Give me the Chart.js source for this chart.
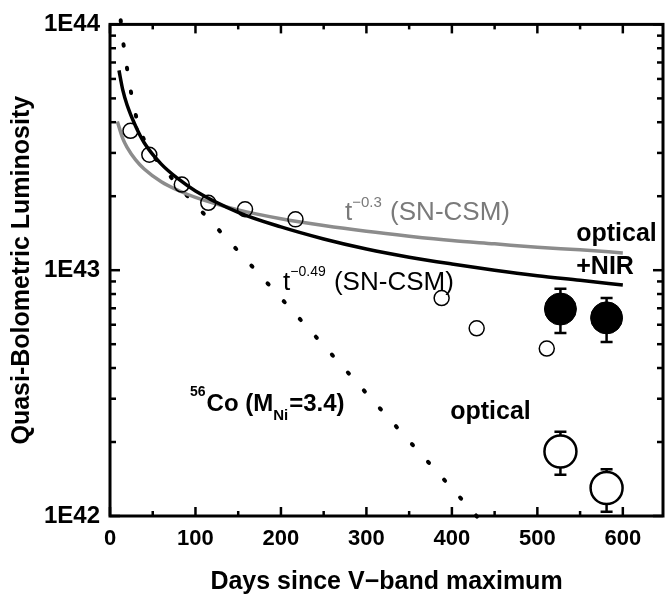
<!DOCTYPE html>
<html>
<head>
<meta charset="utf-8">
<script src="https://cdn.jsdelivr.net/npm/chart.js@4"></script>
<style>
  html, body { margin: 0; padding: 0; background: #fff; }
  #wrap { width: 665px; height: 600px; }
</style>
</head>
<body>
<div id="wrap"><canvas id="chart"></canvas></div>
<script>
// Values (days since V max, erg/s)
const smallDays = [24, 46, 84, 115, 158, 217, 388, 429, 511];
const smallLum = [3.69e43, 2.95e43, 2.23e43, 1.88e43, 1.77e43, 1.61e43, 7.7e42, 5.8e42, 4.8e42];

// optical+NIR (filled) and optical (open) late points, with error bars
const lateDays = [527, 581];
const nirLum = [6.95e42, 6.4e42];
const nirHi = [8.4e42, 7.7e42];
const nirLo = [5.55e42, 5.1e42];
const optLum = [1.83e42, 1.30e42];
const optHi = [2.2e42, 1.55e42];
const optLo = [1.47e42, 1.04e42];

// t^-0.3 (SN-CSM) curve, grey
const grayDays = [8.6, 15, 20, 30, 40, 60, 80, 100, 150, 200, 250, 300, 350, 400, 450, 500, 550, 600];
const grayLum = [4.03e43, 3.43e43, 3.16e43, 2.81e43, 2.58e43, 2.29e43, 2.11e43, 1.98e43, 1.76e43, 1.62e43,
                 1.52e43, 1.44e43, 1.375e43, 1.32e43, 1.28e43, 1.24e43, 1.21e43, 1.176e43];

// t^-0.49 (SN-CSM) curve, black
const blackDays = [10.5, 15, 20, 30, 40, 60, 80, 100, 150, 200, 250, 300, 350, 400, 450, 500, 550, 600];
const blackLum = [6.5e43, 5.4e43, 4.7e43, 3.85e43, 3.3e43, 2.7e43, 2.35e43, 2.1e43, 1.72e43, 1.5e43,
                  1.34e43, 1.22e43, 1.13e43, 1.06e43, 1.0e43, 9.5e42, 9.1e42, 8.7e42];

// 56Co decay (M_Ni = 3.4), dotted
const coDays = [12.5, 15, 20, 25, 30, 36, 50, 64, 80, 103, 144, 200, 263, 302, 350, 404, 443];
const coLum = [1.04e44, 8.7e43, 6.6e43, 5.2e43, 4.3e43, 3.65e43, 2.95e43, 2.57e43, 2.2e43, 1.8e43,
               1.26e43, 7.7e42, 4.4e42, 3.1e42, 2.02e42, 1.25e42, 8.8e41];

// axis ticks
const xTicks = [0, 100, 200, 300, 400, 500, 600];
const xMinor = [50, 150, 250, 350, 450, 550];
const yTicks = [1e42, 1e43, 1e44];
const yTickLabels = ['1E42', '1E43', '1E44'];
const yMinor = [2e42, 3e42, 4e42, 5e42, 6e42, 7e42, 8e42, 9e42, 2e43, 3e43, 4e43, 5e43, 6e43, 7e43, 8e43, 9e43];

const FONT = "'Liberation Sans', Arial, sans-serif";
const pts = (xs, ys) => xs.map((d, i) => ({ x: d, y: ys[i] }));

// text notes placed in data coordinates
const notes = [
  { x: 275, y: 1.6e43, color: '#7a7a7a', parts: [
    { t: 't', size: 26, w: 'normal' }, { t: '\u22120.3', size: 15, w: 'normal', dy: -13 }, { t: ' (SN-CSM)', size: 26, w: 'normal' }] },
  { x: 202.5, y: 8.27e42, color: '#000', parts: [
    { t: 't', size: 26, w: 'normal' }, { t: '\u22120.49', size: 14, w: 'normal', dy: -14 }, { t: ' (SN-CSM)', size: 26, w: 'normal' }] },
  { x: 545.5, y: 1.31e43, color: '#000', parts: [{ t: 'optical', size: 25, w: 'bold' }] },
  { x: 545.5, y: 9.68e42, color: '#000', parts: [{ t: '+NIR', size: 25, w: 'bold' }] },
  { x: 398, y: 2.48e42, color: '#000', parts: [{ t: 'optical', size: 25, w: 'bold' }] },
  { x: 93.6, y: 2.67e42, color: '#000', parts: [
    { t: '56', size: 14, w: 'bold', dy: -15 }, { t: 'Co (M', size: 24, w: 'bold' },
    { t: 'Ni', size: 15, w: 'bold', dy: 9 }, { t: '=3.4)', size: 24, w: 'bold' }] }
];

const errorBars = {
  id: 'errorBars',
  beforeDatasetsDraw(chart) {
    const { ctx, scales: { x, y } } = chart;
    ctx.save();
    ctx.strokeStyle = '#000';
    ctx.lineWidth = 2.5;
    const draw = (lo, hi) => lateDays.forEach((d, i) => {
      const px = x.getPixelForValue(d);
      const top = y.getPixelForValue(hi[i]);
      const bot = y.getPixelForValue(lo[i]);
      ctx.beginPath();
      ctx.moveTo(px, top); ctx.lineTo(px, bot);
      ctx.moveTo(px - 6, top); ctx.lineTo(px + 6, top);
      ctx.moveTo(px - 6, bot); ctx.lineTo(px + 6, bot);
      ctx.stroke();
    });
    draw(nirLo, nirHi);
    draw(optLo, optHi);
    ctx.restore();
  }
};

const frame = {
  id: 'frame',
  afterDatasetsDraw(chart) {
    const { ctx, chartArea: a, scales: { x, y } } = chart;
    ctx.save();
    ctx.strokeStyle = '#000';
    ctx.lineWidth = 2.5;
    const seg = (x1, y1, x2, y2) => { ctx.beginPath(); ctx.moveTo(x1, y1); ctx.lineTo(x2, y2); ctx.stroke(); };
    const xt = (v, len) => { const p = x.getPixelForValue(v); seg(p, a.bottom, p, a.bottom - len); seg(p, a.top, p, a.top + len); };
    const yt = (v, len) => { const p = y.getPixelForValue(v); seg(a.left, p, a.left + len, p); seg(a.right, p, a.right - len, p); };
    xTicks.forEach(v => xt(v, 9));
    xMinor.forEach(v => xt(v, 5));
    yTicks.forEach(v => yt(v, 10));
    yMinor.forEach(v => yt(v, 6));
    ctx.lineWidth = 3;
    ctx.strokeRect(a.left, a.top, a.right - a.left, a.bottom - a.top);

    // notes
    notes.forEach(n => {
      let px = x.getPixelForValue(n.x);
      const py = y.getPixelForValue(n.y);
      ctx.fillStyle = n.color;
      ctx.textBaseline = 'alphabetic';
      ctx.textAlign = 'left';
      n.parts.forEach(p => {
        ctx.font = `${p.w} ${p.size}px ${FONT}`;
        ctx.fillText(p.t, px, py + (p.dy || 0));
        px += ctx.measureText(p.t).width + (p.dy ? 1 : 0);
      });
    });
    ctx.restore();
  }
};

new Chart(document.getElementById('chart').getContext('2d'), {
  type: 'scatter',
  data: {
    datasets: [
      { label: 'optical+NIR', data: pts(lateDays, nirLum), pointRadius: 16, pointBackgroundColor: '#000',
        pointBorderColor: '#000', pointBorderWidth: 1 },
      { label: 'optical', data: pts(lateDays, optLum), pointRadius: 16, pointBackgroundColor: '#fff',
        pointBorderColor: '#000', pointBorderWidth: 2.5 },
      { label: 'optical (early)', data: pts(smallDays, smallLum), pointRadius: 7.5, pointBackgroundColor: 'rgba(0,0,0,0)',
        pointBorderColor: '#000', pointBorderWidth: 1.5 },
      { label: 't^-0.49', data: pts(blackDays, blackLum), showLine: true, pointRadius: 0,
        borderColor: '#000', borderWidth: 3.5, cubicInterpolationMode: 'monotone' },
      { label: 't^-0.3', data: pts(grayDays, grayLum), showLine: true, pointRadius: 0,
        borderColor: '#8c8c8c', borderWidth: 3.5, cubicInterpolationMode: 'monotone' },
      { label: '56Co', data: pts(coDays, coLum), showLine: true, pointRadius: 0, clip: false,
        borderColor: '#000', borderWidth: 4, borderDash: [1.5, 22.5], borderCapStyle: 'round',
        cubicInterpolationMode: 'monotone' }
    ]
  },
  options: {
    responsive: true,
    maintainAspectRatio: false,
    animation: false,
    layout: { autoPadding: false, padding: { top: 19, right: 2, left: 0, bottom: 0 } },
    plugins: { legend: { display: false }, tooltip: { enabled: false } },
    scales: {
      x: {
        type: 'linear', min: 0, max: 647,
        grid: { display: false, drawTicks: false, tickLength: 0 },
        border: { display: false },
        afterBuildTicks: s => { s.ticks = xTicks.map(v => ({ value: v })); },
        afterFit: s => { s.height = 84; s.paddingLeft = 0; s.paddingRight = 0; },
        ticks: { padding: 10, autoSkip: false, maxRotation: 0, color: '#000',
                 font: { family: FONT, size: 22, weight: 'bold' } },
        title: { display: true, text: 'Days since V\u2212band maximum', color: '#000',
                 font: { family: FONT, size: 25, weight: 'bold' }, padding: { top: 0, bottom: 3 } }
      },
      y: {
        type: 'logarithmic', min: 1e42, max: 1e44,
        grid: { display: false, drawTicks: false, tickLength: 0 },
        border: { display: false },
        afterBuildTicks: s => { s.ticks = yTicks.map(v => ({ value: v })); },
        afterFit: s => { s.width = 110; },
        ticks: { padding: 10, autoSkip: false, color: '#000',
                 font: { family: FONT, size: 24, weight: 'bold' },
                 callback: (v, i) => yTickLabels[i] },
        title: { display: true, text: 'Quasi-Bolometric Luminosity', color: '#000',
                 font: { family: FONT, size: 25, weight: 'bold' }, padding: { top: 7, bottom: 0 } }
      }
    }
  },
  plugins: [errorBars, frame]
});
</script>
</body>
</html>
